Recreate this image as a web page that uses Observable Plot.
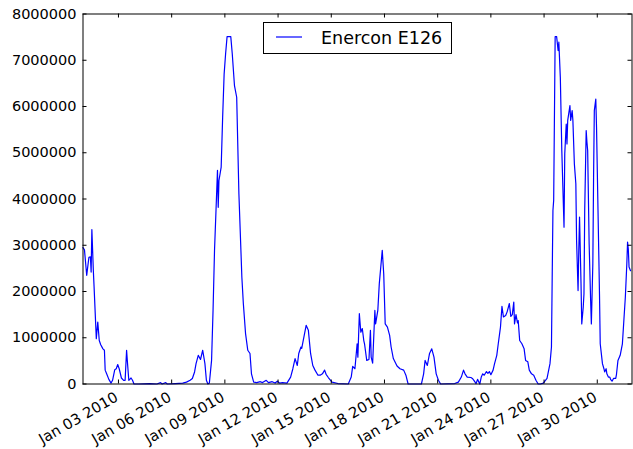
<!DOCTYPE html>
<html>
<head>
<meta charset="utf-8">
<script src="https://cdn.jsdelivr.net/npm/d3@7"></script>
<script src="https://cdn.jsdelivr.net/npm/@observablehq/plot@0.6"></script>
<style>
  html, body { margin: 0; padding: 0; background: #fff; }
  #wrap { position: relative; width: 633px; height: 449px; font-family: "DejaVu Sans", sans-serif; }
  #legend { position: absolute; left: 262.5px; top: 22px; width: 187px; height: 30px; border: 1px solid #000; background: #fff; box-sizing: content-box; }
  #legend svg { position: absolute; left: 0; top: 0; }
</style>
</head>
<body>
<div id="wrap"></div>
<script>
// Hours since 2010-01-01 00:00 UTC
const hours = [0,2,5,8,10,11,12,14,15,18,20,22,24,27,29,30,32,35,38,40,43,45,47,49,52,55,57,59,60,62,65,67,69,75,90,100,105,107,112,114,125,135,140,145,148,151,153,156,159,162,165,167,169,171,174,176,178,180,182,183,184,187,189,191,193,195,200,202,205,208,211,215,217,220,223,226,228,231,235,240,243,248,251,256,260,263,266,270,276,281,284,287,290,292,295,296,299,302,305,308,311,314,318,321,324,327,329,332,337,345,359,363,365,368,371,372,374,376,378,380,381,384,387,389,390,392,395,396,399,401,405,407,409,412,415,417,420,425,429,434,437,440,458,461,463,466,469,472,475,478,481,484,503,508,512,515,517,520,525,527,529,532,534,537,539,541,543,546,548,550,552,555,557,560,562,565,567,569,572,574,577,579,581,583,584,586,588,589,591,594,597,599,602,604,607,610,613,616,619,623,628,632,634,635,636,637,639,641,643,644,646,648,651,652,654,655,656,659,660,662,663,665,667,668,670,671,672,674,675,677,678,679,681,682,683,685,687,688,690,691,692,694,695,697,699,700,703,705,706,708,709,711,713,714,716,718,721,722,724,727,730,732,734,736,737,738,739,741];
const values = [2950000,2900000,2350000,2740000,2750000,2420000,3340000,2450000,2100000,980000,1340000,940000,850000,760000,730000,300000,220000,100000,20000,80000,310000,330000,420000,330000,130000,80000,80000,730000,500000,80000,130000,80000,0,0,10000,0,30000,0,30000,0,10000,20000,40000,80000,120000,260000,440000,620000,530000,730000,440000,80000,0,20000,510000,1590000,2890000,3750000,4620000,3820000,4400000,4690000,5770000,6700000,7140000,7510000,7510000,7140000,6450000,6200000,4110000,2310000,1740000,1090000,730000,660000,220000,40000,30000,50000,30000,80000,30000,50000,20000,60000,20000,30000,20000,150000,330000,550000,400000,660000,800000,770000,1020000,1270000,1160000,660000,400000,300000,190000,190000,220000,300000,210000,140000,40000,10000,0,150000,380000,330000,870000,580000,1520000,1120000,1200000,940000,870000,510000,530000,1160000,580000,450000,1590000,1300000,1590000,2170000,2890000,2380000,1300000,1230000,1050000,800000,550000,390000,330000,300000,190000,0,0,220000,510000,400000,660000,760000,580000,220000,80000,0,10000,40000,150000,300000,220000,150000,140000,120000,80000,10000,100000,0,150000,220000,190000,270000,230000,270000,200000,300000,440000,620000,870000,1230000,1680000,1450000,1480000,1560000,1740000,1460000,1500000,1770000,1300000,1500000,1320000,1370000,940000,870000,760000,510000,480000,300000,220000,190000,80000,0,0,20000,120000,440000,800000,2310000,3750000,3970000,7510000,7510000,7210000,7390000,6630000,5050000,3390000,4980000,5620000,5190000,5700000,6020000,5700000,5910000,5700000,4760000,4330000,3100000,2020000,2890000,3610000,2170000,1300000,1660000,1950000,3750000,5480000,5230000,5050000,3030000,1810000,1300000,2600000,4470000,5910000,6160000,5550000,3750000,1950000,870000,440000,330000,260000,330000,220000,150000,150000,100000,60000,120000,120000,210000,510000,620000,870000,1380000,1880000,2600000,3070000,2920000,2530000,2450000];
const seriesName = "Enercon E126";
const yTicks = [0,1000000,2000000,3000000,4000000,5000000,6000000,7000000,8000000];
const xTickDates = ["2010-01-03","2010-01-06","2010-01-09","2010-01-12","2010-01-15","2010-01-18","2010-01-21","2010-01-24","2010-01-27","2010-01-30"];
const domainHours = [0, 743];

const t0 = Date.UTC(2010, 0, 1);
const toDate = h => new Date(t0 + h * 3600e3);
const data = hours.map((h, i) => ({date: toDate(h), value: values[i]}));
const xTicks = xTickDates.map(s => new Date(s + "T00:00:00Z"));
const fmtX = d3.utcFormat("%b %d %Y");

const W = 633, H = 449;
const mL = 82.5, mR = 1.5, mT = 13.5, mB = 65.5;
const plotW = W - mL - mR, plotH = H - mT - mB;

const chart = Plot.plot({
  width: W, height: H,
  marginLeft: mL, marginRight: mR, marginTop: mT, marginBottom: mB,
  style: {fontFamily: "DejaVu Sans, sans-serif", fontSize: "14.5px", background: "#fff", color: "#000", overflow: "visible"},
  x: {type: "utc", domain: domainHours.map(toDate), axis: null},
  y: {domain: [0, 8000000], axis: null},
  marks: [
    Plot.line(data, {x: "date", y: "value", stroke: "#0000ff", strokeWidth: 1.2}),
    Plot.tickX(xTicks, {x: d => d, insetTop: plotH - 4, stroke: "#000"}),
    Plot.tickX(xTicks, {x: d => d, insetBottom: plotH - 4, stroke: "#000"}),
    Plot.tickY(yTicks, {y: d => d, insetRight: plotW - 4, stroke: "#000"}),
    Plot.tickY(yTicks, {y: d => d, insetLeft: plotW - 4, stroke: "#000"}),
    Plot.text(yTicks, {y: d => d, frameAnchor: "left", text: d => d3.format("d")(d), textAnchor: "end", dx: -6.5, fill: "#000", fontSize: 14.5}),
    Plot.text(xTicks, {x: d => d, frameAnchor: "bottom", text: d => fmtX(d), textAnchor: "end", lineAnchor: "top", rotate: -30, dx: -4.5, dy: 7, fill: "#000", fontSize: 14.8}),
    Plot.frame({stroke: "#000"})
  ]
});

const wrap = document.getElementById("wrap");
wrap.appendChild(chart);

const legend = document.createElement("div");
legend.id = "legend";
legend.innerHTML = `<svg width="187" height="30">
  <line x1="12" x2="38" y1="14" y2="14" stroke="#0000ff" stroke-width="1.2"/>
  <text x="57" y="20.5" font-family="DejaVu Sans, sans-serif" font-size="17.5px" fill="#000">${seriesName}</text>
</svg>`;
wrap.appendChild(legend);
</script>
</body>
</html>
